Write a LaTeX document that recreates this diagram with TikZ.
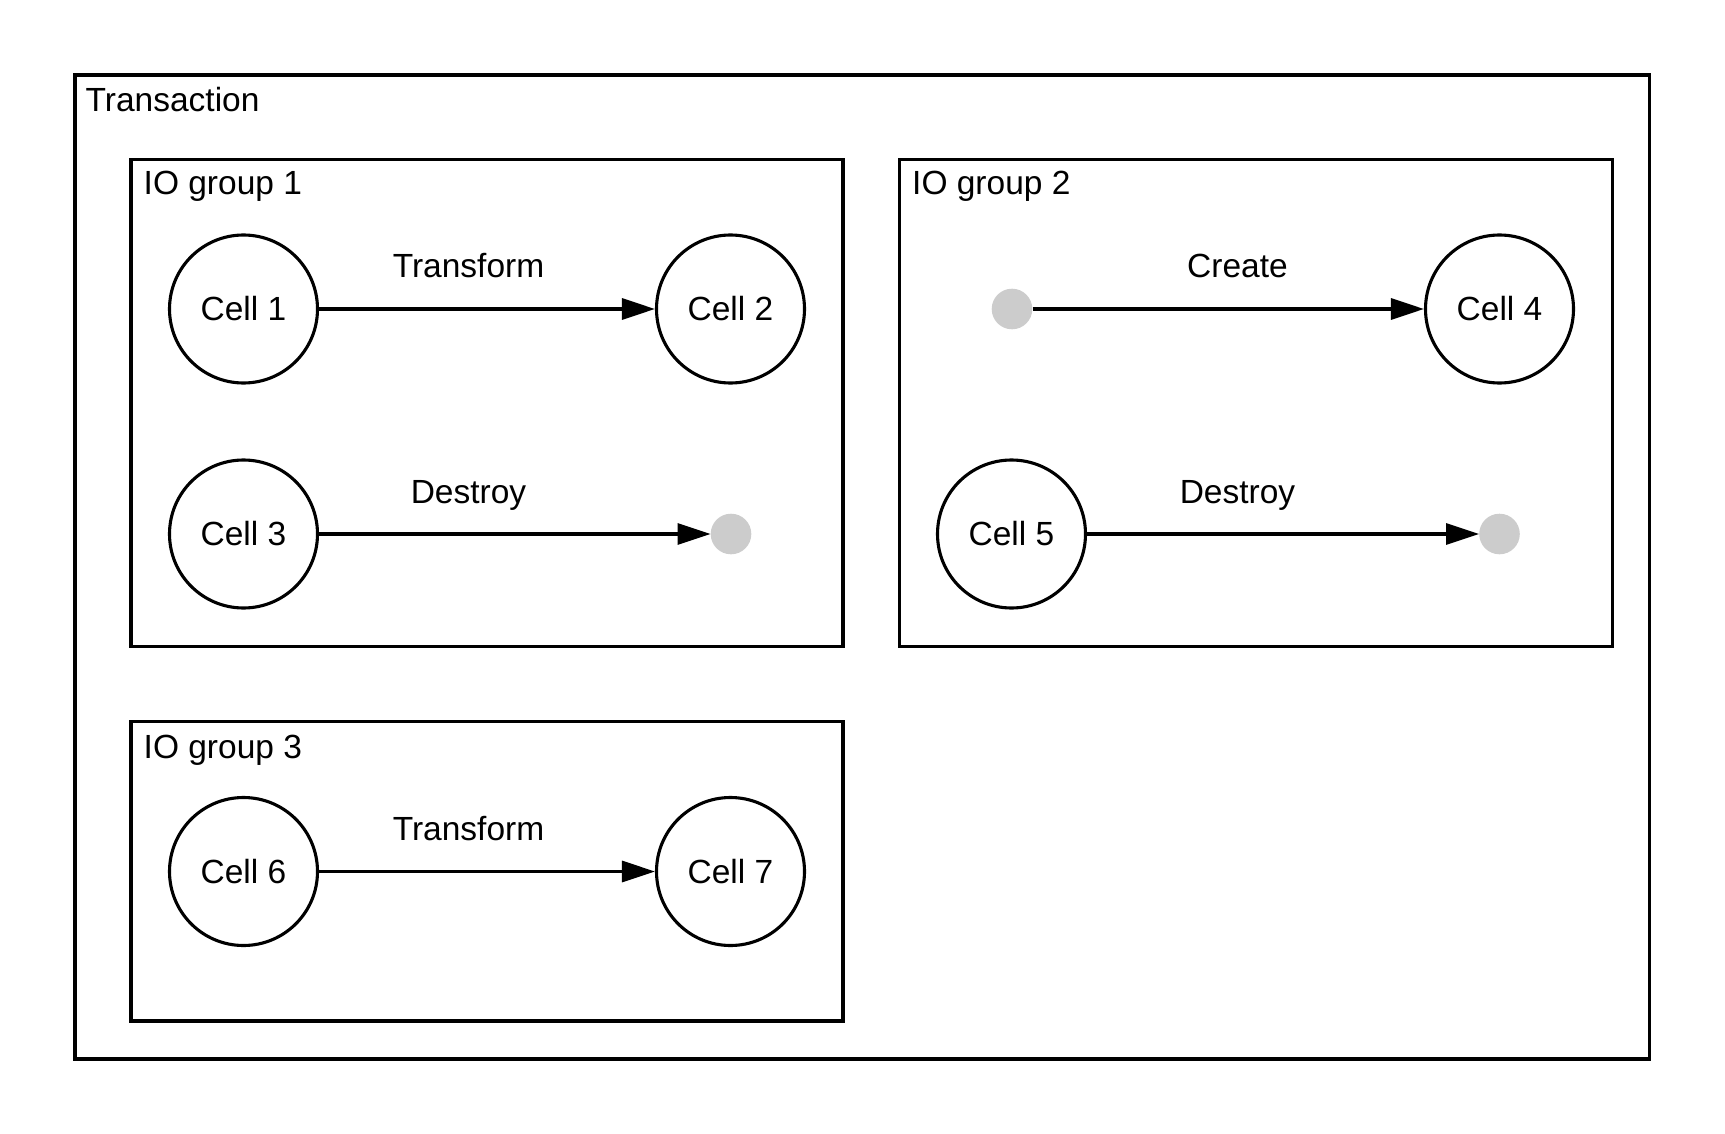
\documentclass[tikz,border=0pt]{standalone}
\usepackage{fontspec}
\setmainfont{Liberation Sans}
\usetikzlibrary{positioning,arrows.meta}
\definecolor{voidgray}{HTML}{CCCCCC}

\begin{document}
\begin{tikzpicture}[x=1pt, y=-1pt, font=\fontsize{33.5}{40}\selectfont,
  frame/.style={rectangle, draw, line width=3.4pt, anchor=north west, inner sep=0pt, outer sep=0pt},
  cell/.style={circle, draw, line width=3.1pt, minimum size=148pt, inner sep=0pt},
  void/.style={circle, fill=voidgray, minimum size=40.6pt, inner sep=0pt},
  title/.style={anchor=base west, inner sep=0pt},
  act/.style={anchor=base, inner sep=0pt},
  flow/.style={line width=3.2pt, -{Triangle[length=33pt, width=21pt]}}]
 \useasboundingbox (0,0) rectangle (1725,1134);

 % frames
 \node[frame, minimum width=1574.5pt, minimum height=984pt] (Transaction) at (75,75) {};
 \node[title] (TransactionTitle) at (85.5,112) {Transaction};
 \node[frame, minimum width=712pt, minimum height=487pt] (IOgroup1) at (131,159.5) {};
 \node[title] (IOgroup1Title) at (143.5,195) {IO group 1};
 \node[frame, minimum width=713pt, minimum height=487pt] (IOgroup2) at (899.5,159.5) {};
 \node[title] (IOgroup2Title) at (912,195) {IO group 2};
 \node[frame, minimum width=712pt, minimum height=299.5pt] (IOgroup3) at (131,721.5) {};
 \node[title] (IOgroup3Title) at (143.5,758) {IO group 3};

 % IO group 1
 \node[cell] (Cell1) at (243.5,309) {Cell 1};
 \node[cell] (Cell2) at (730.5,309) {Cell 2};
 \node[cell] (Cell3) at (243.5,534) {Cell 3};
 \node[void] (Gone1) at (731,534) {};
 \draw[flow] (Cell1) -- (Cell2);
 \draw[flow] (Cell3) -- (Gone1);
 \node[act] (Transform1) at (468.5,278) {Transform};
 \node[act] (Destroy1) at (468.5,503) {Destroy};

 % IO group 2
 \node[void] (New4) at (1012,309) {};
 \node[cell] (Cell4) at (1499.5,309) {Cell 4};
 \node[cell] (Cell5) at (1011.5,534) {Cell 5};
 \node[void] (Gone5) at (1499.5,534) {};
 \draw[flow] (New4) -- (Cell4);
 \draw[flow] (Cell5) -- (Gone5);
 \node[act] (Create4) at (1237.5,278) {Create};
 \node[act] (Destroy5) at (1237.5,503) {Destroy};

 % IO group 3
 \node[cell] (Cell6) at (243.5,871.5) {Cell 6};
 \node[cell] (Cell7) at (730.5,871.5) {Cell 7};
 \draw[flow] (Cell6) -- (Cell7);
 \node[act] (Transform6) at (468.5,840.5) {Transform};
\end{tikzpicture}
\end{document}
